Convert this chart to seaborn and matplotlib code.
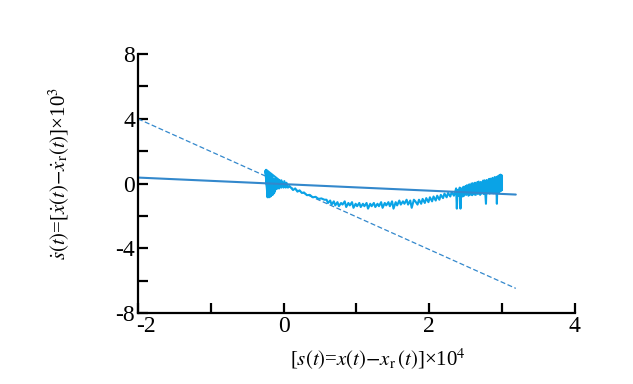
import matplotlib
matplotlib.use("Agg")
import matplotlib.pyplot as plt
import seaborn as sns
import pandas as pd
from matplotlib.transforms import ScaledTranslation

# ---- data ----
# straight reference lines (endpoints)
solid_x = [-2.05, 3.19]
solid_y = [0.38, -0.68]
dash_x = [-2.0, 3.19]
dash_y = [4.0, -6.48]

# phase trajectory
traj_x = [0.00, -0.24, -0.22, -0.25, -0.21, -0.24, -0.20, -0.23, -0.19, -0.22, -0.18, -0.21,
          -0.17, -0.20, -0.15, -0.18, -0.13, -0.16, -0.12, -0.14, -0.10, -0.11, -0.08, -0.09,
          -0.06, -0.06, -0.03, -0.03, 0.00, 0.01, 0.03, 0.04, 0.06, 0.08,
          0.10, 0.13, 0.16, 0.19, 0.22, 0.25, 0.28, 0.32, 0.36, 0.40, 0.44, 0.48, 0.52, 0.56,
          0.59, 0.61, 0.64, 0.66, 0.69, 0.71, 0.74, 0.76, 0.79, 0.81, 0.84, 0.86, 0.89, 0.91,
          0.94, 0.96, 0.99, 1.01, 1.04, 1.06, 1.09, 1.11, 1.14, 1.16, 1.19, 1.21, 1.24, 1.26,
          1.29, 1.31, 1.34, 1.36, 1.39, 1.41, 1.44, 1.46, 1.49, 1.51, 1.54, 1.56, 1.59, 1.61,
          1.64, 1.66, 1.69, 1.71, 1.74, 1.76, 1.79,
          1.81, 1.84, 1.86, 1.89, 1.91, 1.94, 1.96, 1.99, 2.01, 2.04, 2.06, 2.09, 2.11, 2.14,
          2.16, 2.19, 2.21, 2.24, 2.26, 2.29, 2.31, 2.34, 2.36,
          2.37, 2.38, 2.39, 2.40, 2.42, 2.43, 2.44, 2.46, 2.47, 2.48, 2.50, 2.51, 2.52, 2.54,
          2.55, 2.56, 2.58, 2.59, 2.60, 2.62, 2.63, 2.64, 2.66, 2.67, 2.68, 2.70, 2.71, 2.72,
          2.74, 2.75, 2.76, 2.78, 2.79, 2.80, 2.82, 2.83, 2.84, 2.86, 2.87, 2.88, 2.90, 2.91,
          2.92, 2.93, 2.94, 2.95, 2.96, 2.97, 2.98, 2.99, 3.00, 3.00]
traj_y = [0.00, 0.85, -0.85, 0.80, -0.80, 0.75, -0.85, 0.70, -0.80, 0.65, -0.80, 0.60,
          -0.75, 0.55, -0.70, 0.50, -0.60, 0.45, -0.50, 0.30, -0.35, 0.30, -0.30, 0.25,
          -0.30, 0.20, -0.25, 0.20, -0.25, 0.15, -0.25, 0.05, -0.25, -0.15,
          -0.25, -0.40, -0.30, -0.50, -0.42, -0.58, -0.55, -0.72, -0.70, -0.85, -0.82, -0.95, -0.92, -1.00,
          -1.00, -1.20, -1.05, -1.30, -1.10, -1.35, -1.15, -1.40, -1.20, -1.30, -1.10, -1.45, -1.20, -1.35,
          -1.15, -1.50, -1.25, -1.40, -1.20, -1.45, -1.25, -1.40, -1.20, -1.55, -1.25, -1.40, -1.20, -1.45,
          -1.25, -1.40, -1.15, -1.50, -1.20, -1.35, -1.15, -1.40, -1.10, -1.55, -1.15, -1.35, -1.05, -1.30,
          -1.10, -1.25, -1.00, -1.30, -1.05, -1.50, -1.00,
          -1.10, -1.30, -1.00, -1.25, -0.95, -1.20, -0.90, -1.15, -0.85, -1.10, -0.80, -1.05, -0.75, -1.00,
          -0.70, -0.90, -0.62, -0.85, -0.58, -0.80, -0.52, -0.75, -0.48,
          -0.30, -1.55, -0.40, -0.75, -0.25, -1.55, -0.30, -0.80, -0.20, -0.75, -0.15, -0.70, -0.10, -0.75,
          -0.05, -0.70, 0.00, -0.72, 0.02, -0.68, 0.05, -0.70, 0.08, -0.65, 0.12, -0.70, 0.10, -0.62,
          0.18, -0.65, 0.20, -1.25, 0.22, -0.60, 0.28, -0.62, 0.30, -0.58, 0.35, -0.60, 0.40, -0.55,
          0.38, -1.25, 0.45, -0.55, 0.50, -0.50, 0.55, -0.45, 0.50, -0.40]

yticks = [-8, -6, -4, -2, 0, 2, 4, 6, 8]
ytick_labels = ["-8", "", "-4", "", "0", "", "4", "", "8"]
xticks = [-2, -1, 0, 1, 2, 3, 4]
xtick_labels = ["-2", "", "0", "", "2", "", "4"]

# ---- plot ----
sns.set_theme(style="ticks")
plt.rcParams["font.family"] = ["Liberation Serif", "DejaVu Serif"]
plt.rcParams["mathtext.fontset"] = "stix"

fig = plt.figure(figsize=(6.33, 3.84), dpi=100)
ax = fig.add_axes([0.218, 0.185, 0.690, 0.674])

line_col = "#3388CC"
traj_col = "#0AA3E6"

df_dash = pd.DataFrame({"x": dash_x, "y": dash_y})
df_solid = pd.DataFrame({"x": solid_x, "y": solid_y})
df_traj = pd.DataFrame({"x": traj_x, "y": traj_y})

sns.lineplot(data=df_dash, x="x", y="y", ax=ax, color=line_col, lw=0.9,
             linestyle=(0, (4, 2)), sort=False)
sns.lineplot(data=df_traj, x="x", y="y", ax=ax, color=traj_col, lw=1.5,
             sort=False, estimator=None)
sns.lineplot(data=df_solid, x="x", y="y", ax=ax, color=line_col, lw=1.5, sort=False)

ax.set_xlim(-2, 4)
ax.set_ylim(-8, 8)
ax.set_xticks(xticks)
ax.set_xticklabels(xtick_labels)
ax.set_yticks(yticks)
ax.set_yticklabels(ytick_labels)

for s in ["top", "right"]:
    ax.spines[s].set_visible(False)
for s in ["left", "bottom"]:
    ax.spines[s].set_linewidth(1.6)
    ax.spines[s].set_color("black")

ax.tick_params(direction="in", length=7, width=1.6, labelsize=17, colors="black", pad=2)

# first x tick label sits to the right of its tick, as in the reference
first = ax.get_xticklabels()[0]
first.set_transform(first.get_transform() + ScaledTranslation(-2 / 100, 0, fig.dpi_scale_trans))
first.set_horizontalalignment("left")

ax.set_xlabel(r"[$s(t)$=$x(t)$$-$$x_{\rm r}\,(t)$]×10$^4$", fontsize=15, color="black")
ax.set_ylabel(r"$\dot{s}(t)$=[$\dot{x}(t)$$-$$\dot{x}_{\rm r}(t)$]×10$^3$", fontsize=15, color="black")
ax.xaxis.set_label_coords(0.55, -0.13)
ax.yaxis.set_label_coords(-0.15, 0.54)

fig.savefig("out.png", dpi=100)
